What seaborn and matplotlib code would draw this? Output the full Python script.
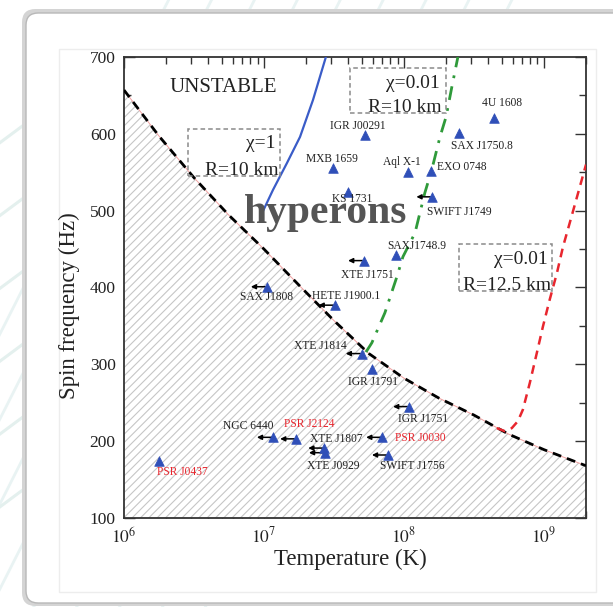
import numpy as np
import pandas as pd
import matplotlib
matplotlib.use("Agg")
import matplotlib.pyplot as plt
from matplotlib.patches import FancyBboxPatch, Rectangle
from matplotlib.lines import Line2D
from matplotlib.ticker import FixedLocator, LogLocator, MultipleLocator, NullFormatter
import seaborn as sns

# ---- observed sources: core temperature (K) and spin frequency (Hz) ----
src_names = ["4U 1608", "SAX J1750.8", "IGR J00291", "MXB 1659", "Aql X-1", "EXO 0748",
             "KS 1731", "SWIFT J1749", "SAXJ1748.9", "XTE J1751", "SAX J1808",
             "HETE J1900.1", "XTE J1814", "IGR J1791", "IGR J1751", "NGC 6440",
             "PSR J2124", "XTE J1807", "XTE J0929", "PSR J0030", "SWIFT J1756", "PSR J0437"]
src_temp = [4.4e8, 2.47e8, 5.3e7, 3.1e7, 1.07e8, 1.56e8,
            4.0e7, 1.6e8, 8.8e7, 5.2e7, 1.05e7,
            3.2e7, 5.0e7, 5.9e7, 1.09e8, 1.16e7,
            1.7e7, 2.7e7, 2.73e7, 7.0e7, 7.7e7, 1.78e6]
src_freq = [620, 601, 599, 556, 550, 552,
            524, 518, 442, 435, 401,
            377, 314, 294, 245, 205,
            203, 191, 185, 205, 182, 174]
# temperature is only an upper limit
src_upper = [False, False, False, False, False, False,
             False, True, False, True, True,
             True, True, False, True, True,
             True, True, True, True, True, False]
# radio millisecond pulsars
src_radio = ["PSR J2124", "PSR J0030", "PSR J0437"]

# ---- r-mode instability window boundary (minimum) ----
edge_T = [1.0e6, 1.78e6, 3.16e6, 5.62e6, 1.0e7, 1.78e7, 3.16e7, 5.62e7,
          1.0e8, 1.78e8, 3.16e8, 5.62e8, 1.0e9, 2.0e9]
edge_f = [657, 597, 543, 494, 450, 403, 357, 314, 282, 256, 234, 209, 189, 168]

# chi = 1, R = 10 km
chi1_T = [9.7e6, 1.16e7, 1.46e7, 1.81e7, 2.24e7, 2.77e7]
chi1_f = [497, 527, 562, 596, 644, 700]

# chi = 0.01, R = 10 km
chi01_T = [5.36e7, 5.90e7, 7.31e7, 8.91e7, 9.84e7, 1.2e8, 1.41e8, 1.58e8,
           1.81e8, 2.0e8, 2.2e8, 2.43e8]
chi01_f = [316, 328, 367, 414, 440, 471, 523, 553, 596, 622, 661, 700]

# chi = 0.01, R = 12.5 km
chi01b_T = [4.61e8, 5.26e8, 5.90e8, 6.52e8, 7.08e8, 7.94e8, 8.91e8, 9.84e8,
            1.10e9, 1.24e9, 1.37e9, 1.53e9, 1.75e9, 2.0e9]
chi01b_f = [217, 213, 217, 226, 241, 276, 315, 349, 384, 419, 453, 484, 522, 560]

x_ticks = [1e6, 1e7, 1e8, 1e9]
x_tick_labels = [r"$10^{6}$", r"$10^{7}$", r"$10^{8}$", r"$10^{9}$"]
y_ticks = [100, 200, 300, 400, 500, 600, 700]
y_tick_labels = ["100", "200", "300", "400", "500", "600", "700"]

# label placement around each marker (pixels) and horizontal alignment
label_style = {
    "4U 1608": (8, 15, "center"), "SAX J1750.8": (23, -13, "center"),
    "IGR J00291": (-8, 9, "center"), "MXB 1659": (-1, 9, "center"),
    "Aql X-1": (-6, 10, "center"), "EXO 0748": (6, 4, "left"),
    "KS 1731": (4, -7, "center"), "SWIFT J1749": (-5, -15, "left"),
    "SAXJ1748.9": (21, 9, "center"), "XTE J1751": (3, -14, "center"),
    "SAX J1808": (0, -10, "center"), "HETE J1900.1": (11, 9, "center"),
    "XTE J1814": (-15, 8, "right"), "IGR J1791": (1, -13, "center"),
    "IGR J1751": (14, -12, "center"), "NGC 6440": (-25, 11, "center"),
    "PSR J2124": (13, 15, "center"), "XTE J1807": (12, 9, "center"),
    "XTE J0929": (8, -13, "center"), "PSR J0030": (13, -1, "left"),
    "SWIFT J1756": (24, -11, "center"), "PSR J0437": (23, -11, "center"),
}

sns.set_theme(style="ticks")
plt.rcParams["font.family"] = ["Liberation Serif", "DejaVu Serif"]
plt.rcParams["mathtext.fontset"] = "stix"
plt.rcParams["hatch.linewidth"] = 0.8

W, H = 613, 607
fig = plt.figure(figsize=(W / 100, H / 100), dpi=100)
fig.patch.set_facecolor("white")


def fx(px):
    return px / W


def fy(py):
    return 1 - py / H


# soft streaks in the page background
for k in range(9):
    x0 = -0.25 + 0.07 * k
    fig.add_artist(Line2D([x0, x0 + 0.55], [-0.05, 1.05], transform=fig.transFigure,
                          color="#e9f3f3", lw=2.0, zorder=-5))
for k in range(6):
    y0 = 0.15 + 0.12 * k
    fig.add_artist(Line2D([-0.02, 0.06], [y0, y0 + 0.06], transform=fig.transFigure,
                          color="#e4f0ee", lw=2.2, zorder=-5))

# card with shadow
fig.add_artist(FancyBboxPatch((fx(22), fy(606)), 1.2, (606 - 9) / H,
                              boxstyle="round,pad=0,rounding_size=0.022",
                              transform=fig.transFigure, fc="#d4d4d4", ec="none", zorder=-4))
fig.add_artist(FancyBboxPatch((fx(26), fy(603)), 1.2, (603 - 13) / H,
                              boxstyle="round,pad=0,rounding_size=0.02",
                              transform=fig.transFigure, fc="white", ec="#b8b8b8", lw=1.0,
                              zorder=-3))
fig.add_artist(Rectangle((fx(59), fy(592)), fx(596) - fx(59), (592 - 49) / H,
                         transform=fig.transFigure, fc="white", ec="#ededed", lw=1.0, zorder=-2))

ax = fig.add_axes([fx(124), fy(518), fx(586) - fx(124), (518 - 57) / H])
ax.set_xscale("log")
ax.set_xlim(1e6, 2e9)
ax.set_ylim(100, 700)

# stable region under the boundary
ax.fill_between(edge_T, 100, edge_f, facecolor="white", edgecolor="#c6c6c6",
                hatch="////", linewidth=0, zorder=1)

edge_df = pd.DataFrame({"T": edge_T, "f": edge_f})
sns.lineplot(data=edge_df, x="T", y="f", ax=ax, sort=False, estimator=None,
             color="#f0a0a0", lw=0.7, zorder=2)
sns.lineplot(data=edge_df, x="T", y="f", ax=ax, sort=False, estimator=None,
             color="black", lw=2.0, linestyle=(0, (3.2, 2.2)), zorder=3)

sns.lineplot(x=chi1_T, y=chi1_f, ax=ax, sort=False, estimator=None,
             color="#3a5cc8", lw=1.6, zorder=3)
sns.lineplot(x=chi01_T, y=chi01_f, ax=ax, sort=False, estimator=None,
             color="#2f9a3a", lw=2.0, linestyle=(0, (5, 3, 1, 3)), zorder=3)
sns.lineplot(x=chi01b_T, y=chi01b_f, ax=ax, sort=False, estimator=None,
             color="#e8262e", lw=1.8, linestyle=(0, (3.5, 2.5)), zorder=3)

# upper-limit arrows
for T, f, up in zip(src_temp, src_freq, src_upper):
    if up:
        ax.annotate("", xy=(T * 10 ** -0.115, f), xytext=(T * 10 ** -0.01, f),
                    arrowprops=dict(arrowstyle="-|>", color="black", lw=1.1,
                                    mutation_scale=7, shrinkA=0, shrinkB=0),
                    zorder=4)

src_df = pd.DataFrame({"T": src_temp, "f": src_freq})
sns.scatterplot(data=src_df, x="T", y="f", ax=ax, marker="^", s=48,
                color="#2f4fb8", edgecolor="#2f4fb8", linewidth=0.5, zorder=5)

for name, T, f in zip(src_names, src_temp, src_freq):
    dx, dy, ha = label_style[name]
    ax.annotate(name, xy=(T, f), xytext=(dx, dy), textcoords="offset pixels",
                ha=ha, va="center", fontsize=8.3,
                color="#e8262e" if name in src_radio else "#222222", zorder=6)

# region annotations
ax.text((223 - 124) / 462, (518 - 87) / 461, "UNSTABLE", transform=ax.transAxes,
        ha="center", va="center", fontsize=15, color="#222222")
ax.text((326 - 124) / 462, (518 - 213) / 461, "hyperons", transform=ax.transAxes,
        ha="center", va="center", fontsize=30, fontweight="bold", color="#555555", zorder=7)


def box(x0, y0, x1, y1):
    ax.add_patch(Rectangle(((x0 - 124) / 462, (518 - y1) / 461), (x1 - x0) / 462, (y1 - y0) / 461,
                           transform=ax.transAxes, fill=False, ec="#8a8a8a", lw=1.1,
                           linestyle=(0, (3, 2)), zorder=6))


def boxtext(x, y, s):
    ax.text((x - 124) / 462, (518 - y) / 461, s, transform=ax.transAxes, ha="right",
            va="baseline", fontsize=14, color="#222222", zorder=6)


box(188, 129, 280, 176)
boxtext(276, 148, "χ=1")
boxtext(279, 175, "R=10 km")
box(350, 68, 446, 113)
boxtext(440, 88, "χ=0.01")
boxtext(442, 112, "R=10 km")
box(459, 244, 552, 291)
boxtext(548, 264, "χ=0.01")
boxtext(551, 290, "R=12.5 km")

# axes styling
ax.xaxis.set_major_locator(FixedLocator(x_ticks))
ax.set_xticklabels(x_tick_labels)
ax.xaxis.set_minor_locator(LogLocator(base=10, subs=np.arange(2, 10)))
ax.xaxis.set_minor_formatter(NullFormatter())
ax.yaxis.set_major_locator(FixedLocator(y_ticks))
ax.set_yticklabels(y_tick_labels)
ax.yaxis.set_minor_locator(MultipleLocator(50))
ax.tick_params(which="both", direction="in", top=True, right=True, colors="#333333",
               labelcolor="#222222", labelsize=12.5)
ax.tick_params(which="major", length=8, width=1.0, pad=6)
ax.tick_params(which="minor", length=5, width=1.0)
for sp in ax.spines.values():
    sp.set_color("#333333")
    sp.set_linewidth(1.3)

ax.set_xlabel("Temperature (K)", fontsize=16.5, color="#222222")
ax.set_ylabel("Spin frequency (Hz)", fontsize=16.5, color="#222222")
ax.xaxis.set_label_coords(0.491, -0.066)
ax.yaxis.set_label_coords(-0.095, 0.46)

fig.savefig("out.png", dpi=100)
